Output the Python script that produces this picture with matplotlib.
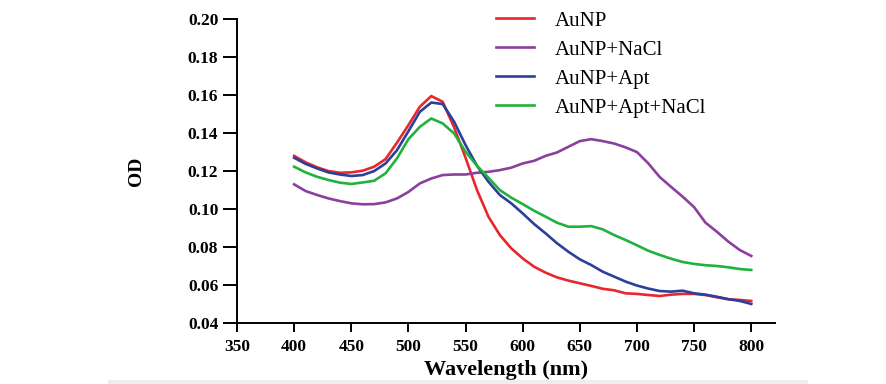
import numpy as np
import matplotlib.pyplot as plt
from matplotlib.patches import Rectangle

# Wavelength grid (nm) and OD spectra
wavelength = list(range(400, 801, 10))

aunp = [0.128, 0.1246, 0.122, 0.120, 0.1191, 0.1193, 0.1202, 0.1223, 0.1263, 0.135,
        0.1442, 0.1539, 0.1595, 0.1565, 0.143, 0.127, 0.110, 0.096, 0.0863, 0.0793,
        0.074, 0.0696, 0.0665, 0.064, 0.0623, 0.0609, 0.0595, 0.058, 0.0572, 0.0556,
        0.0553, 0.0547, 0.0542, 0.0549, 0.0553, 0.0553, 0.0547, 0.0535, 0.0525, 0.0521,
        0.0516]

aunp_nacl = [0.113, 0.1095, 0.1074, 0.1056, 0.1042, 0.103, 0.1025, 0.1026, 0.1035, 0.1056,
             0.109, 0.1135, 0.1161, 0.1179, 0.1182, 0.1182, 0.1191, 0.1196, 0.1205, 0.1218,
             0.1240, 0.1254, 0.128, 0.1298, 0.1328, 0.1358, 0.1368, 0.1358, 0.1345, 0.1325,
             0.130, 0.124, 0.1168, 0.1116, 0.1065, 0.101, 0.0928, 0.088, 0.0828, 0.0784,
             0.0753]

aunp_apt = [0.127, 0.1238, 0.1214, 0.1193, 0.1182, 0.1174, 0.1179, 0.120, 0.124, 0.131,
            0.141, 0.1512, 0.1561, 0.1553, 0.146, 0.1337, 0.1228, 0.1144, 0.1074, 0.103,
            0.0977, 0.0921, 0.0872, 0.082, 0.0775, 0.0735, 0.0705, 0.067, 0.0644, 0.0618,
            0.0597, 0.0581, 0.0568, 0.0565, 0.057, 0.0556, 0.0549, 0.0538, 0.0525, 0.0516,
            0.050]

aunp_apt_nacl = [0.1223, 0.1193, 0.117, 0.1153, 0.1139, 0.1132, 0.114, 0.1149, 0.1188, 0.1267,
                 0.1368, 0.1433, 0.1477, 0.1451, 0.1398, 0.1302, 0.1228, 0.1165, 0.110, 0.106,
                 0.1026, 0.0991, 0.096, 0.0928, 0.0907, 0.0907, 0.091, 0.0893, 0.0863, 0.0837,
                 0.0809, 0.078, 0.0758, 0.0738, 0.0721, 0.0711, 0.0704, 0.070, 0.0693, 0.0684,
                 0.0679]

series = [
    ("AuNP", aunp, "#e8262b"),
    ("AuNP+NaCl", aunp_nacl, "#8b3f9e"),
    ("AuNP+Apt", aunp_apt, "#2c3f9a"),
    ("AuNP+Apt+NaCl", aunp_apt_nacl, "#1fb23c"),
]

plt.rcParams["font.family"] = ["Liberation Serif", "DejaVu Serif"]

fig = plt.figure(figsize=(8.86, 3.84), dpi=100)
ax = fig.add_axes([0.2675, 0.159, 0.6075, 0.791])

for label, values, color in series:
    ax.plot(wavelength, values, color=color, lw=1.9, label=label)

ax.set_xlim(350, 821)
ax.set_ylim(0.04, 0.20)
ax.set_xticks(np.arange(350, 801, 50))
ax.set_yticks(np.arange(0.04, 0.201, 0.02))
ax.yaxis.set_major_formatter(plt.FormatStrFormatter("%.2f"))

for side in ["top", "right"]:
    ax.spines[side].set_visible(False)
for side in ["left", "bottom"]:
    ax.spines[side].set_linewidth(1.4)
ax.tick_params(direction="out", width=1.4, labelsize=12.5)
ax.tick_params(axis="y", length=10, pad=3.5)
ax.tick_params(axis="x", length=6.5, pad=5)
for lbl in ax.get_xticklabels() + ax.get_yticklabels():
    lbl.set_fontweight("bold")

ax.set_xlabel("Wavelength (nm)", fontsize=16, fontweight="bold")
ax.set_ylabel("OD", fontsize=14, fontweight="bold")
ax.xaxis.set_label_coords(0.5, -0.122)
ax.yaxis.set_label_coords(-0.171, 0.5)

fig.legend(loc="upper left", bbox_to_anchor=(0.539, 1.02), frameon=False,
           fontsize=15, handlelength=1.8, handletextpad=1.0, labelspacing=0.45)

# faint grey strip along the bottom edge of the original image
fig.patches.append(Rectangle((108 / 886, 0), 699 / 886, 4 / 384,
                             transform=fig.transFigure, color="#eeeeee", zorder=0))

fig.savefig("out.png", dpi=100)
